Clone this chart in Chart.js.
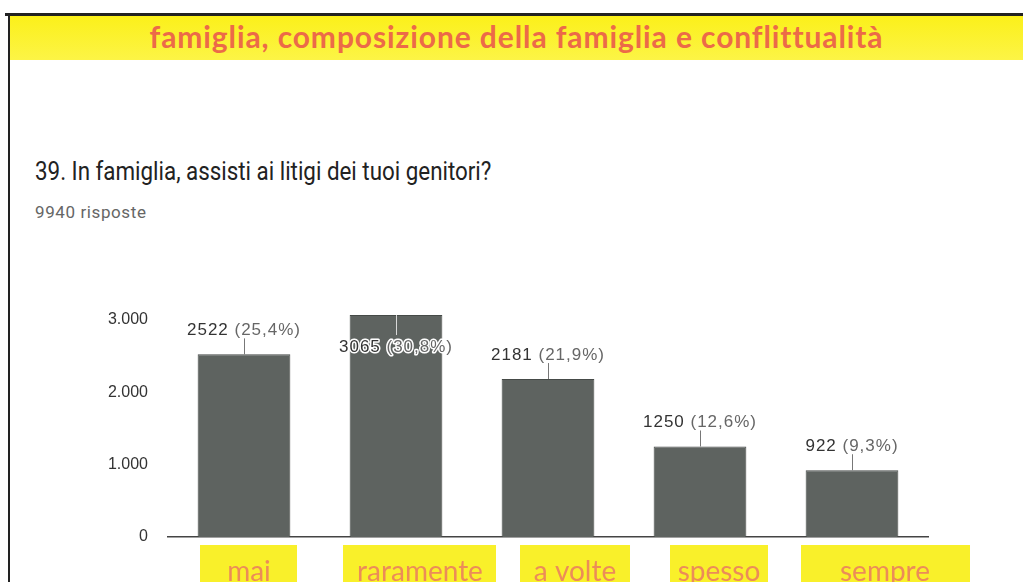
<!DOCTYPE html>
<html lang="it">
<head>
<meta charset="utf-8">
<title>39. In famiglia, assisti ai litigi dei tuoi genitori?</title>
<script src="https://cdn.jsdelivr.net/npm/chart.js@4.4.1/dist/chart.umd.min.js"></script>
<style>
  html, body { margin: 0; padding: 0; background: #fff; }
  body { width: 1023px; height: 582px; position: relative; overflow: hidden; }
  .frame-top { position: absolute; left: 5px; top: 13px; width: 1018px; height: 3px; background: #222; }
  .frame-left { position: absolute; left: 8px; top: 13px; width: 2px; height: 569px; background: #222; }
  .band {
    position: absolute; left: 10px; top: 16px; width: 1013px; height: 44px;
    background: linear-gradient(#fbf01a, #fcf446);
    text-align: center;
    font: bold 30px Lato, "Open Sans", sans-serif;
    letter-spacing: 0.9px;
    color: #ec6a48;
    line-height: 40px;
  }
  .question {
    position: absolute; left: 35px; top: 156px;
    font: 26px Roboto, sans-serif; color: #222;
    transform: scaleX(0.86); transform-origin: left top;
    white-space: nowrap;
  }
  .answers {
    position: absolute; left: 35px; top: 202px;
    font: 17px Roboto, sans-serif; color: #666;
    letter-spacing: 0.6px;
  }
  #wrap { position: absolute; left: 0; top: 280px; width: 1023px; height: 302px; }
</style>
</head>
<body>
<div class="frame-top"></div>
<div class="frame-left"></div>
<div class="band">famiglia, composizione della famiglia e conflittualità</div>
<div class="question">39. In famiglia, assisti ai litigi dei tuoi genitori?</div>
<div class="answers">9940 risposte</div>
<div id="wrap"><canvas id="myChart" width="1023" height="302"></canvas></div>

<script>
// risposte alla domanda 39
const categories = ['mai', 'raramente', 'a volte', 'spesso', 'sempre'];
const counts = [2522, 3065, 2181, 1250, 922];
const totalAnswers = 9940;
const yTicks = [0, 1000, 2000, 3000];

function thousands(v) {
    return String(v).replace(/\B(?=(\d{3})+(?!\d))/g, '.');
}

// "2522 (25,4%)" sopra ogni barra, con la lineetta di richiamo
const valueLabels = {
    id: 'valueLabels',
    afterDatasetsDraw(chart) {
        const ctx = chart.ctx;
        const area = chart.chartArea;
        const meta = chart.getDatasetMeta(0);
        ctx.save();
        ctx.font = '17px "Liberation Sans", Arial, sans-serif';
        ctx.letterSpacing = '1px';
        ctx.textBaseline = 'alphabetic';
        meta.data.forEach(function (bar, i) {
            const v = counts[i];
            const num = String(v);
            const pct = ' (' + (v / totalAnswers * 100).toFixed(1).replace('.', ',') + '%)';
            const w1 = ctx.measureText(num).width;
            const w2 = ctx.measureText(pct).width;
            const left = bar.x - (w1 + w2) / 2;
            let baseline, y0, y1, inside = false;
            if (bar.y - 34 < area.top) {
                inside = true;
                baseline = bar.y + 37;
                y0 = bar.y; y1 = bar.y + 20;
            } else {
                baseline = bar.y - 19;
                y0 = bar.y - 16; y1 = bar.y;
            }
            ctx.strokeStyle = inside ? '#d8d8d8' : '#777';
            ctx.lineWidth = 1;
            ctx.beginPath();
            ctx.moveTo(Math.round(bar.x) + 0.5, y0);
            ctx.lineTo(Math.round(bar.x) + 0.5, y1);
            ctx.stroke();
            ctx.textAlign = 'left';
            if (inside) {
                ctx.strokeStyle = '#fff';
                ctx.lineWidth = 3;
                ctx.lineJoin = 'round';
                ctx.strokeText(num, left, baseline);
                ctx.strokeText(pct, left + w1, baseline);
            }
            ctx.fillStyle = '#333';
            ctx.fillText(num, left, baseline);
            ctx.fillStyle = '#666';
            ctx.fillText(pct, left + w1, baseline);
        });
        ctx.restore();
    }
};

// etichette delle categorie evidenziate in giallo
const labelBoxes = {
    id: 'labelBoxes',
    afterDraw(chart, args, opts) {
        const ctx = chart.ctx;
        const x = chart.scales.x;
        ctx.save();
        ctx.font = opts.font;
        ctx.textAlign = 'center';
        ctx.textBaseline = 'alphabetic';
        categories.forEach(function (label, i) {
            const cx = x.getPixelForTick(i);
            const box = opts.boxes[i];
            ctx.fillStyle = opts.boxColor;
            ctx.fillRect(cx + box[0], opts.boxTop, box[1] - box[0], 60);
            ctx.fillStyle = opts.color;
            ctx.fillText(label, cx + opts.shift[i], opts.baseline);
        });
        ctx.restore();
    }
};

const ctx = document.getElementById('myChart').getContext('2d');
const myChart = new Chart(ctx, {
    type: 'bar',
    data: {
        labels: categories,
        datasets: [{
            data: counts,
            backgroundColor: '#5e6360',
            borderColor: '#454a47',
            borderWidth: 1,
            categoryPercentage: 1,
            barPercentage: 0.61
        }]
    },
    options: {
        responsive: false,
        animation: false,
        layout: { padding: { left: 0, right: 95, top: 4, bottom: 0 } },
        plugins: {
            legend: { display: false },
            tooltip: { enabled: false },
            labelBoxes: {
                font: '28px Lato, "Open Sans", sans-serif',
                color: '#ec8c58',
                boxColor: '#f9f02a',
                boxTop: 265,
                baseline: 301,
                boxes: [[-44, 53], [-53, 100], [-28, 82], [-30, 68], [-51, 118]],
                shift: [5, 24, 27, 19, 33]
            }
        },
        scales: {
            x: {
                grid: { display: false },
                border: { display: true, color: '#444', width: 1.5 },
                ticks: { display: false },
                afterFit(scale) { scale.height = 45; }
            },
            y: {
                min: 0,
                max: 3140,
                afterBuildTicks(scale) {
                    scale.ticks = yTicks.map(function (v) { return { value: v }; });
                },
                afterFit(scale) { scale.width = 168; },
                grid: { display: false, drawTicks: false },
                border: { display: false },
                ticks: {
                    padding: 20,
                    color: '#333',
                    font: { family: '"Liberation Sans", Arial, sans-serif', size: 16 },
                    callback: function (value) { return thousands(value); }
                }
            }
        }
    },
    plugins: [valueLabels, labelBoxes]
});
</script>
</body>
</html>
